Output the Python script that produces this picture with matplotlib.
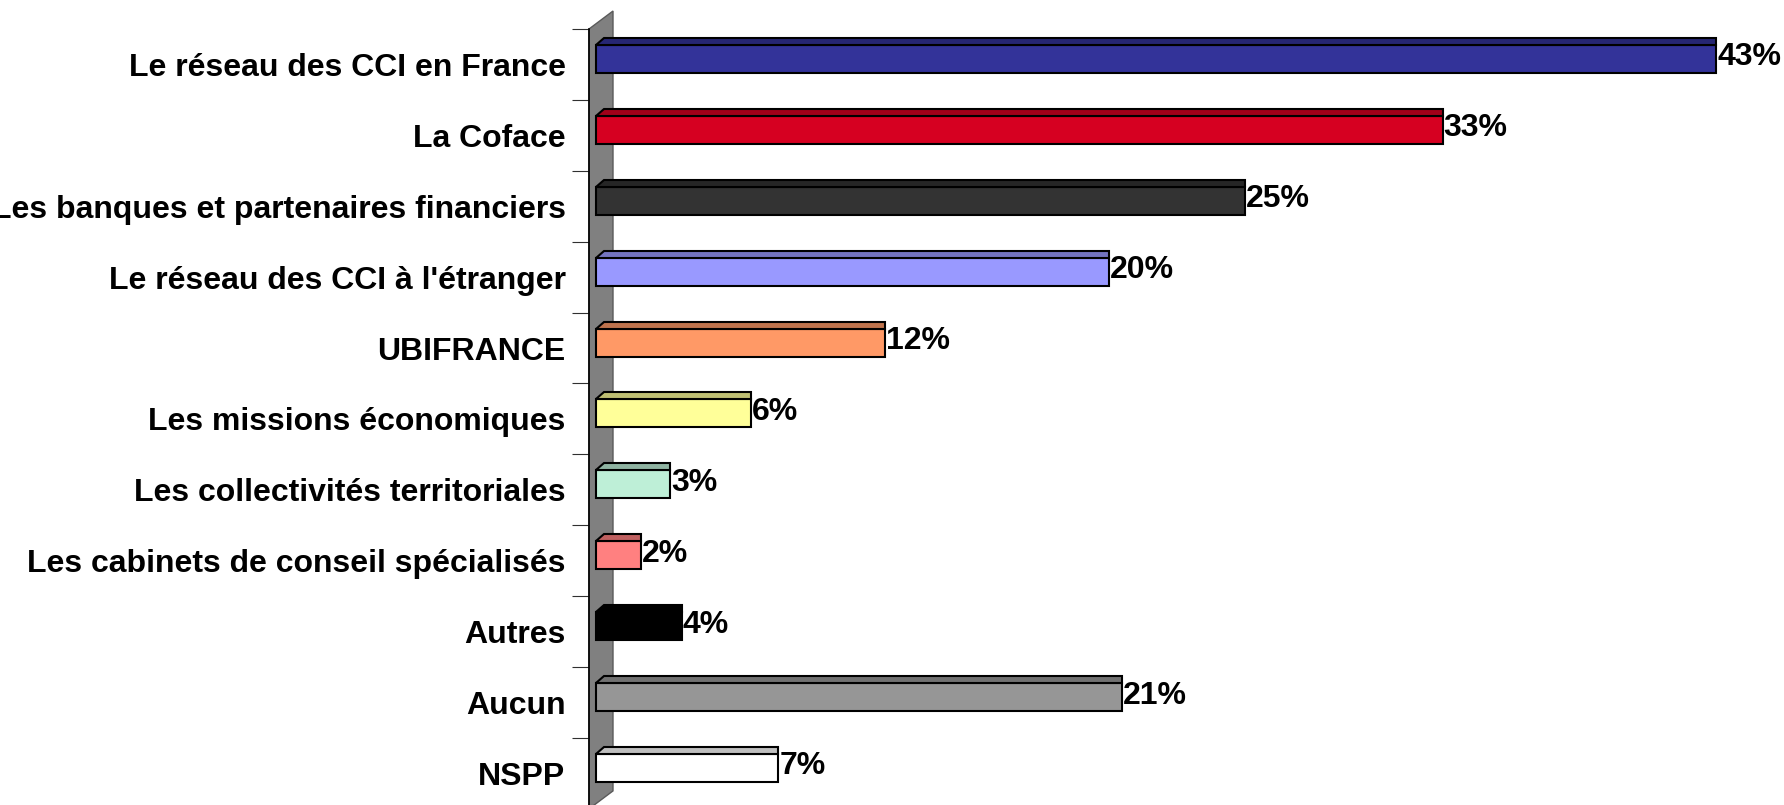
import matplotlib
matplotlib.use("Agg")
import matplotlib.pyplot as plt
from matplotlib.patches import Polygon
from matplotlib.colors import to_rgb

plt.rcParams['font.family'] = ['Liberation Sans', 'DejaVu Sans']

# données
categories = ["Le réseau des CCI en France", "La Coface",
              "Les banques et partenaires financiers",
              "Le réseau des CCI à l'étranger", "UBIFRANCE",
              "Les missions économiques", "Les collectivités territoriales",
              "Les cabinets de conseil spécialisés", "Autres", "Aucun", "NSPP"]
values = [43.0, 32.5, 24.9, 19.7, 11.1, 5.95, 2.85, 1.73, 3.3, 20.2, 7.0]
value_labels = ["43%", "33%", "25%", "20%", "12%", "6%", "3%", "2%", "4%", "21%", "7%"]
colors = ["#333399", "#D60021", "#333333", "#9999FF", "#FF9966", "#FFFF99",
          "#BEEFD7", "#FF8080", "#000000", "#969696", "#FFFFFF"]

W, H = 1784, 805
px_x = 26.05   # pixels par %
px_y = 70.9    # pixels par catégorie
x0 = 596       # pixel du zéro
ax_left = 589

fig = plt.figure(figsize=(W / 100, H / 100), dpi=100)
ax = fig.add_axes([ax_left / W, (H - 29 - 11 * px_y) / H, (W - ax_left) / W, 11 * px_y / H])
ax.patch.set_alpha(0)
ax.set_xlim((ax_left - x0) / px_x, (W - x0) / px_x)
ax.set_ylim(10.5, -0.5)

# mur gris (effet 3D)
wx = (613 - x0) / px_x
wall = Polygon([(ax.get_xlim()[0], -0.5), (wx, -0.5 - 18 / px_y),
                (wx, 10.5 - 18 / px_y), (ax.get_xlim()[0], 10.5)],
               closed=True, facecolor="#808080", edgecolor="#5a5a5a",
               linewidth=1, clip_on=False, zorder=1)
ax.add_patch(wall)

fs = 23
bh = 28 / px_y
off = 5.5 / px_y
depth_y = 7 / px_y
depth_x = 8 / px_x
for i, (v, c) in enumerate(zip(values, colors)):
    yc = i - off
    ax.barh(yc, v, height=bh, left=0, color=c, edgecolor="black",
            linewidth=1.5, zorder=3)
    top = tuple(0.75 * k for k in to_rgb(c))
    yf = yc - bh / 2
    ax.add_patch(Polygon([(0, yf), (v, yf), (v, yf - depth_y), (depth_x, yf - depth_y)],
                         closed=True, facecolor=top, edgecolor="black",
                         linewidth=1.5, zorder=3))
    ax.annotate(value_labels[i], xy=(v, i), xytext=(1, -1), textcoords="offset pixels",
                ha="left", va="baseline", fontsize=fs, fontweight="bold", zorder=4)

for s in ["top", "right", "bottom"]:
    ax.spines[s].set_visible(False)
ax.spines["left"].set_color("black")
ax.spines["left"].set_linewidth(1.2)
ax.spines["left"].set_zorder(2)

ax.set_xticks([])
ax.set_yticks(range(len(categories)))
ax.set_yticklabels(categories, fontsize=fs, fontweight="bold")
ax.tick_params(axis="y", which="major", length=0, pad=16.9)
ax.set_yticks([k - 0.5 for k in range(len(categories) + 1)], minor=True)
ax.tick_params(axis="y", which="minor", length=12.2, width=0.8, color="#303030")

fig.savefig("out.png", dpi=100)
